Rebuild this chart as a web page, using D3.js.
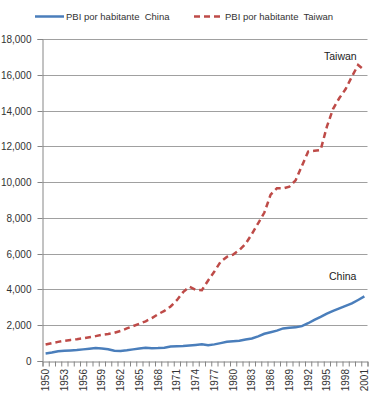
<!DOCTYPE html>
<html><head><meta charset="utf-8">
<script src="https://cdn.jsdelivr.net/npm/d3@7"></script>
<style>
body{margin:0;background:#fff;}
svg{display:block;font-family:"Liberation Sans",Arial,sans-serif;}
</style></head>
<body><svg id="c" width="379" height="400"></svg>
<script>
const years = d3.range(1950, 2002);
const china = [420,470,540,570,590,610,650,690,720,700,660,570,560,600,650,700,740,710,720,740,810,830,840,870,900,930,880,930,1000,1070,1100,1130,1200,1260,1380,1520,1610,1700,1820,1860,1880,1950,2110,2300,2470,2650,2800,2940,3080,3220,3410,3610];
const taiwan = [920,1000,1070,1130,1180,1220,1270,1330,1390,1460,1510,1580,1680,1820,1950,2080,2220,2400,2620,2800,3050,3400,3850,4150,3980,3960,4500,5000,5550,5820,5950,6200,6550,7100,7700,8300,9300,9650,9650,9750,10100,10900,11700,11750,11800,13100,14100,14700,15200,15900,16550,16250];
const yTicks = [0,2000,4000,6000,8000,10000,12000,14000,16000,18000];
const seriesNames = ["PBI por habitante  China","PBI por habitante  Taiwan"];
const labelNames = ["China","Taiwan"];

const svg = d3.select("#c");
const L = 42.5, R = 367.5, T = 39, B = 361;
const x = d3.scaleBand().domain(years).range([L, R]);
const xb = d3.scaleLinear().domain([0, years.length]).range([L, R]);
const y = d3.scaleLinear().domain([0, 18000]).range([B, T]);

// gridlines
svg.append("g").selectAll("line").data(yTicks.filter(d=>d>0)).join("line")
  .attr("x1", L).attr("x2", R)
  .attr("y1", d=>Math.round(y(d))+0.5).attr("y2", d=>Math.round(y(d))+0.5)
  .attr("stroke", "#a0a0a0").attr("stroke-width", 1);

// y axis
const ya = svg.append("g").attr("transform", `translate(${L},0)`)
  .call(d3.axisLeft(y).tickValues(yTicks).tickSize(5).tickPadding(6).tickFormat(d3.format(",")));
ya.select(".domain").attr("stroke", "#868686");
ya.selectAll(".tick line").attr("stroke", "#868686");
ya.selectAll("text").attr("font-size", 10).attr("fill", "#333").attr("font-family", "Liberation Sans, Arial, sans-serif");
ya.selectAll(".tick").attr("transform", d=>`translate(0,${Math.round(y(d))+0.5})`);

// x axis boundary ticks
const xt = svg.append("g").attr("transform", `translate(0,${B+0.5})`)
  .call(d3.axisBottom(xb).tickValues(d3.range(0, years.length+1)).tickSize(5).tickFormat(""));
xt.select(".domain").attr("stroke", "#868686");
xt.selectAll(".tick line").attr("stroke", "#868686");

// x labels
const xl = svg.append("g").attr("transform", `translate(0,${B})`)
  .call(d3.axisBottom(x).tickValues(years.filter((d,i)=>i%3===0)).tickSize(0).tickPadding(0));
xl.select(".domain").remove();
xl.selectAll("text").attr("font-size", 10).attr("fill", "#333")
  .attr("font-family", "Liberation Sans, Arial, sans-serif")
  .attr("transform", "rotate(-90)").attr("text-anchor", "end")
  .attr("x", -8).attr("y", 0).attr("dy", "0.35em");

const cx = (d,i)=> x(years[i]) + x.bandwidth()/2;
const line = d3.line().x((d,i)=>cx(d,i)).y(d=>y(d));

svg.append("path").datum(taiwan).attr("d", line)
  .attr("fill", "none").attr("stroke", "#be4b48").attr("stroke-width", 2.5)
  .attr("stroke-dasharray", "6,4");
svg.append("path").datum(china).attr("d", line)
  .attr("fill", "none").attr("stroke", "#4a7ebb").attr("stroke-width", 2.5);

// legend
const lg = svg.append("g").attr("font-size", 9.5).attr("fill", "#333");
lg.append("line").attr("x1", 35).attr("x2", 64).attr("y1", 16.5).attr("y2", 16.5)
  .attr("stroke", "#4a7ebb").attr("stroke-width", 2.5);
lg.append("text").attr("x", 66).attr("y", 16.5).attr("dy", "0.35em")
  .style("white-space", "pre").text(seriesNames[0]);
lg.append("line").attr("x1", 194).attr("x2", 221).attr("y1", 16.5).attr("y2", 16.5)
  .attr("stroke", "#be4b48").attr("stroke-width", 2.5).attr("stroke-dasharray", "6,4");
lg.append("text").attr("x", 225).attr("y", 16.5).attr("dy", "0.35em")
  .style("white-space", "pre").text(seriesNames[1]);

// annotations
svg.append("text").attr("x", 324).attr("y", 59.5).attr("font-size", 10.5).attr("fill", "#222").text(labelNames[1]);
svg.append("text").attr("x", 329).attr("y", 280).attr("font-size", 10.5).attr("fill", "#222").text(labelNames[0]);
</script></body></html>
